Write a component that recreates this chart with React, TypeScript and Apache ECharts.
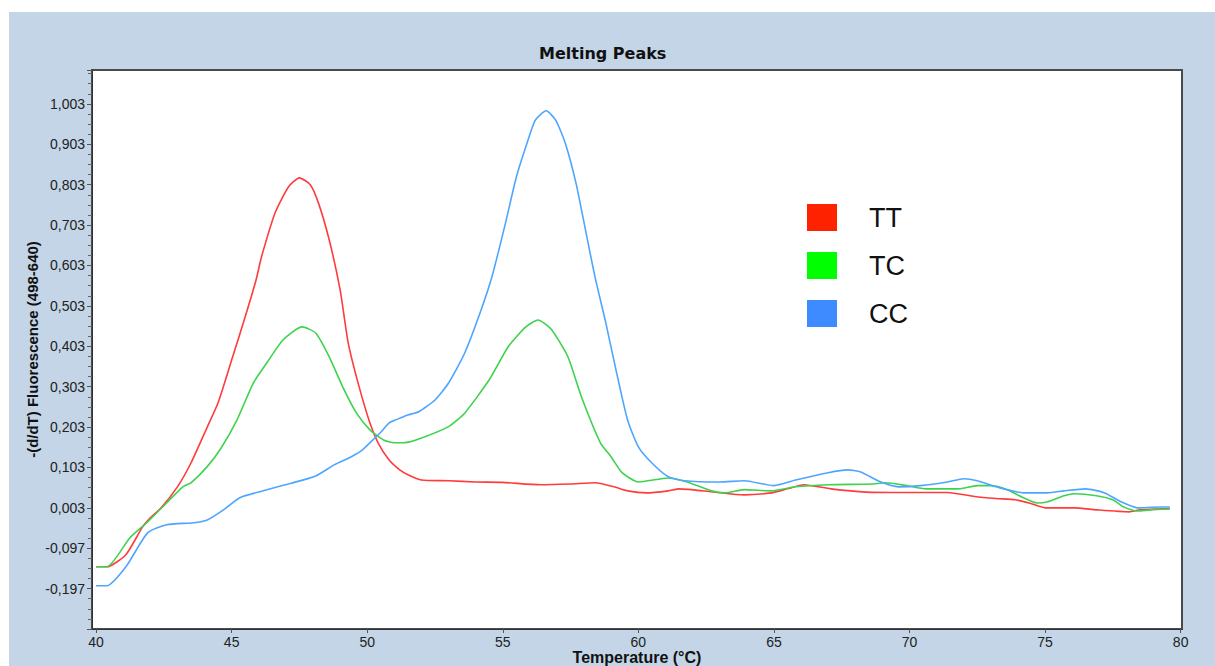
import React, { useEffect, useRef } from "react";
import * as echarts from "echarts";

const xTickValues = [40, 45, 50, 55, 60, 65, 70, 75, 80];
const seriesNames = ["TT", "TC", "CC"];
const legendColors = ["#ff2200", "#00ff00", "#3d8bff"];
const lineColors = ["#ff3b3b", "#3dd34f", "#4ea5ff"];

const ttData: [number, number][] = [
  [40.0, -0.143], [40.4, -0.143], [41.1, -0.113], [41.7, -0.046], [42.0, -0.022], [42.4, 0.003],
  [43.0, 0.055], [43.5, 0.114], [44.1, 0.203], [44.5, 0.263], [45.0, 0.369], [45.5, 0.476],
  [45.9, 0.567], [46.1, 0.624], [46.6, 0.733], [47.1, 0.798], [47.5, 0.82], [47.9, 0.803],
  [48.2, 0.758], [48.6, 0.666], [49.0, 0.543], [49.3, 0.411], [49.7, 0.303], [50.1, 0.213],
  [50.4, 0.164], [50.8, 0.122], [51.2, 0.097], [51.5, 0.085], [52.0, 0.072], [53.0, 0.07],
  [54.0, 0.067], [55.0, 0.066], [56.4, 0.06], [57.5, 0.062], [58.4, 0.065], [59.1, 0.055],
  [59.6, 0.045], [60.3, 0.04], [61.1, 0.045], [61.5, 0.05], [62.7, 0.043], [63.9, 0.035],
  [64.9, 0.04], [65.5, 0.05], [66.1, 0.06], [67.1, 0.05], [68.4, 0.042], [69.9, 0.041],
  [71.4, 0.041], [72.4, 0.031], [73.2, 0.026], [73.9, 0.023], [74.5, 0.013], [75.0, 0.003],
  [76.1, 0.003], [76.9, -0.002], [78.1, -0.007], [78.5, -0.002], [79.6, 0.001],
];

const tcData: [number, number][] = [
  [40.0, -0.143], [40.4, -0.143], [41.25, -0.071], [41.9, -0.032], [42.6, 0.015], [43.2, 0.055],
  [43.5, 0.065], [44.1, 0.105], [44.6, 0.15], [45.2, 0.221], [45.8, 0.312], [46.3, 0.362],
  [46.9, 0.419], [47.6, 0.451], [48.1, 0.436], [48.6, 0.377], [49.1, 0.302], [49.6, 0.238],
  [50.1, 0.196], [50.6, 0.171], [51.0, 0.164], [51.3, 0.164], [51.8, 0.171], [53.0, 0.204],
  [53.6, 0.238], [54.5, 0.32], [55.2, 0.402], [55.85, 0.451], [56.3, 0.468], [56.8, 0.444],
  [57.4, 0.377], [57.9, 0.278], [58.6, 0.164], [59.0, 0.129], [59.4, 0.09], [60.0, 0.067],
  [61.1, 0.077], [61.8, 0.067], [62.7, 0.045], [63.2, 0.04], [63.9, 0.048], [64.9, 0.045],
  [65.8, 0.055], [67.0, 0.06], [68.6, 0.062], [69.1, 0.065], [69.9, 0.058], [70.6, 0.05],
  [71.8, 0.05], [72.5, 0.058], [73.0, 0.058], [73.6, 0.048], [74.2, 0.028], [74.7, 0.015],
  [75.1, 0.018], [75.7, 0.033], [76.1, 0.038], [76.9, 0.033], [77.5, 0.023], [77.9, 0.005],
  [78.4, -0.005], [78.9, -0.002], [79.6, 0.0],
];

const ccData: [number, number][] = [
  [40.0, -0.19], [40.4, -0.19], [41.1, -0.143], [41.9, -0.059], [42.6, -0.039], [43.6, -0.034],
  [44.1, -0.027], [44.7, -0.002], [45.3, 0.028], [46.2, 0.046], [47.2, 0.064], [48.1, 0.082],
  [48.8, 0.11], [49.4, 0.129], [49.8, 0.145], [50.1, 0.164], [50.5, 0.19], [50.8, 0.213],
  [51.1, 0.222], [51.5, 0.233], [51.9, 0.241], [52.5, 0.27], [53.0, 0.312], [53.6, 0.387],
  [54.2, 0.493], [54.6, 0.575], [55.1, 0.708], [55.5, 0.822], [55.85, 0.897], [56.2, 0.963],
  [56.6, 0.986], [56.95, 0.963], [57.3, 0.907], [57.7, 0.807], [58.05, 0.691], [58.4, 0.575],
  [58.8, 0.461], [59.15, 0.352], [59.6, 0.221], [60.0, 0.154], [60.5, 0.114], [61.1, 0.08],
  [61.7, 0.07], [63.0, 0.067], [63.9, 0.07], [65.0, 0.058], [65.8, 0.072], [67.0, 0.09],
  [67.7, 0.097], [68.2, 0.092], [68.9, 0.068], [69.6, 0.055], [70.4, 0.058], [71.4, 0.067],
  [72.0, 0.075], [72.5, 0.07], [73.2, 0.055], [74.2, 0.04], [75.1, 0.04], [75.7, 0.045],
  [76.5, 0.05], [77.2, 0.04], [77.8, 0.018], [78.4, 0.003], [79.2, 0.005], [79.6, 0.005],
];

const allData = [ttData, tcData, ccData];

export default function App() {
  const ref = useRef<HTMLDivElement>(null);

  useEffect(() => {
    if (!ref.current) return;
    const chart = echarts.init(ref.current, null, { renderer: "svg" });
    chart.setOption({
      animation: false,
      backgroundColor: "transparent",
      title: {
        text: "Melting Peaks",
        left: 534,
        top: 40,
        textStyle: {
          fontFamily: "DejaVu Sans",
          fontWeight: "bold",
          fontSize: 16,
          color: "#111",
        },
      },
      legend: {
        orient: "vertical",
        left: 802,
        top: 199,
        icon: "rect",
        itemWidth: 30,
        itemHeight: 27,
        itemGap: 21,
        selectedMode: false,
        data: seriesNames.map((n, i) => ({
          name: n,
          itemStyle: { color: legendColors[i], borderWidth: 0 },
        })),
        textStyle: {
          fontFamily: "Liberation Sans",
          fontSize: 27,
          color: "#111",
          padding: [0, 0, 0, 27],
        },
      },
      grid: {
        left: 92,
        top: 70,
        right: 33,
        bottom: 37,
        outerBoundsMode: "none",
        containLabel: false,
        show: true,
        backgroundColor: "#ffffff",
        borderColor: "#4a4a4a",
        borderWidth: 2,
      },
      xAxis: {
        type: "value",
        min: 39.85,
        max: 80.05,
        name: "Temperature (°C)",
        nameLocation: "middle",
        nameGap: 20,
        nameMoveOverlap: false,
        nameTextStyle: {
          fontFamily: "Liberation Sans",
          fontWeight: "bold",
          fontSize: 16,
          color: "#111",
        },
        splitLine: { show: false },
        axisLine: { onZero: false, lineStyle: { color: "#333", width: 1 } },
        axisTick: {
          show: true,
          customValues: xTickValues,
          length: 4,
          lineStyle: { color: "#555" },
        },
        axisLabel: {
          customValues: xTickValues,
          margin: 6,
          fontFamily: "Liberation Sans",
          fontSize: 14,
          color: "#222",
        },
      },
      yAxis: {
        type: "value",
        min: -0.297,
        max: 1.087,
        interval: 0.1,
        name: "-(d/dT) Fluorescence (498-640)",
        nameLocation: "middle",
        nameGap: 52,
        nameMoveOverlap: false,
        nameTextStyle: {
          fontFamily: "Liberation Sans",
          fontWeight: "bold",
          fontSize: 15,
          color: "#111",
        },
        splitLine: { show: false },
        axisLine: { show: true, onZero: false, lineStyle: { color: "#333", width: 1 } },
        axisTick: { show: true, length: 5, lineStyle: { color: "#555" } },
        minorTick: { show: true, splitNumber: 4, length: 4, lineStyle: { color: "#666" } },
        axisLabel: {
          showMinLabel: false,
          showMaxLabel: false,
          margin: 7,
          fontFamily: "Liberation Sans",
          fontSize: 14,
          color: "#222",
          formatter: (v: number) => v.toFixed(3).replace(".", ","),
        },
      },
      series: allData.map((d, i) => ({
        name: seriesNames[i],
        type: "line",
        data: d,
        smooth: 0.2,
        symbol: "none",
        itemStyle: { color: lineColors[i] },
        lineStyle: { color: lineColors[i], width: 1.6 },
      })),
    });
    return () => chart.dispose();
  }, []);

  return (
    <div style={{ position: "fixed", left: 0, top: 0, width: 1215, height: 666, background: "#ffffff" }}>
      <div style={{ position: "absolute", left: 9, top: 12, width: 1206, height: 654, background: "#c3d5e6" }} />
      <div ref={ref} style={{ position: "absolute", left: 0, top: 0, width: 1215, height: 666 }} />
    </div>
  );
}
